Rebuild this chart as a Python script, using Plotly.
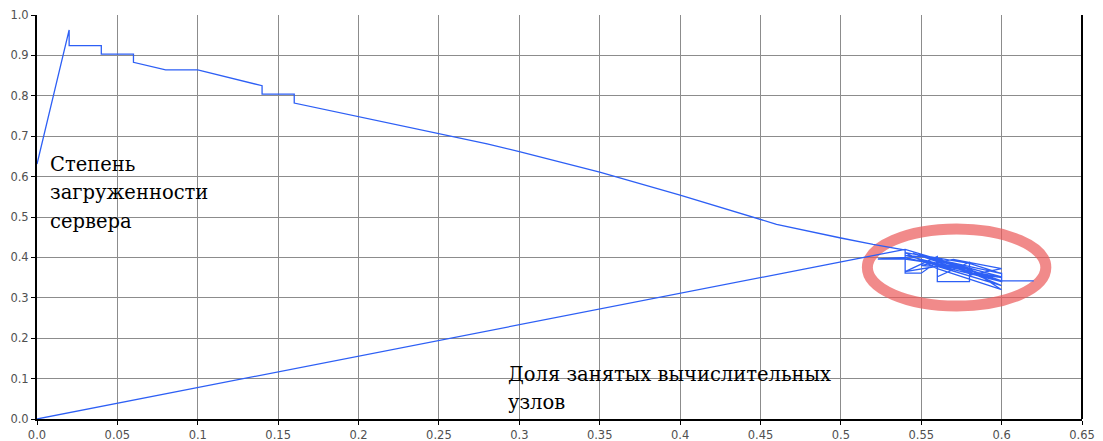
import plotly.graph_objects as go

# Upper branch: server load as busy-node share grows (steps every 0.02)
upper_x = [0.0, 0.02, 0.02, 0.04, 0.04, 0.06, 0.06, 0.08, 0.10, 0.14, 0.14, 0.16, 0.16,
           0.20, 0.25, 0.28, 0.30, 0.35, 0.40, 0.46, 0.50, 0.52]
upper_y = [0.631, 0.963, 0.924, 0.924, 0.903, 0.903, 0.883, 0.864, 0.864, 0.825, 0.804,
           0.804, 0.782, 0.748, 0.705, 0.681, 0.662, 0.611, 0.554, 0.482, 0.448, 0.432]

# Oscillation region around the equilibrium
cluster_x = [0.54, 0.54, 0.55, 0.56, 0.56, 0.58, 0.58, 0.60, 0.60, 0.54, 0.523, 0.54,
             0.58, 0.60, 0.56, 0.54, 0.58, 0.60, 0.56, 0.60, 0.55, 0.58, 0.60, 0.62,
             0.60, 0.56, 0.54, 0.56, 0.58, 0.55, 0.60, 0.58, 0.545, 0.57, 0.60, 0.56,
             0.54, 0.56, 0.56, 0.58, 0.58, 0.60, 0.57, 0.55, 0.58, 0.54]
cluster_y = [0.418, 0.361, 0.361, 0.389, 0.340, 0.340, 0.377, 0.361, 0.340, 0.400, 0.396,
             0.396, 0.372, 0.320, 0.372, 0.412, 0.385, 0.360, 0.395, 0.352, 0.405, 0.370,
             0.342, 0.342, 0.342, 0.385, 0.405, 0.398, 0.365, 0.392, 0.350, 0.362, 0.410,
             0.380, 0.330, 0.378, 0.365, 0.402, 0.352, 0.388, 0.356, 0.372, 0.395, 0.380,
             0.372, 0.420]

# Lower branch: back to the origin
lower_x = [0.0]
lower_y = [0.0]

x_ticks = [0.0, 0.05, 0.1, 0.15, 0.2, 0.25, 0.3, 0.35, 0.4, 0.45, 0.5, 0.55, 0.6, 0.65]
x_tick_text = ["0.0", "0.05", "0.1", "0.15", "0.2", "0.25", "0.3", "0.35", "0.4",
               "0.45", "0.5", "0.55", "0.6", "0.65"]
y_ticks = [0.0, 0.1, 0.2, 0.3, 0.4, 0.5, 0.6, 0.7, 0.8, 0.9, 1.0]

# Axis captions, one entry per text line
y_caption_lines = ["Степень", "загруженности", "сервера"]
x_caption_lines = ["Доля занятых вычислительных", "узлов"]

# Highlighted region (ellipse centre and half-axes)
ell_cx, ell_cy, ell_rx, ell_ry = 0.572, 0.375, 0.0555, 0.0953

xs = upper_x + cluster_x + lower_x
ys = upper_y + cluster_y + lower_y

fig = go.Figure()
fig.add_trace(go.Scatter(
    x=xs, y=ys, mode="lines",
    line=dict(color="rgb(45,95,245)", width=1.3),
    showlegend=False, hoverinfo="skip",
))

grid = "rgb(140,140,140)"
tick_font = dict(family="DejaVu Sans", size=11.5, color="#505050")

fig.update_xaxes(
    range=[0, 0.65], tickvals=x_ticks, ticktext=x_tick_text,
    showgrid=True, gridcolor=grid, gridwidth=1, zeroline=False,
    showline=True, linecolor="black", linewidth=2,
    ticks="outside", ticklen=4, tickcolor="black", tickwidth=1,
    tickfont=tick_font, automargin=False,
)
fig.update_yaxes(
    range=[0, 1.0], tickvals=y_ticks, tickformat=".1f",
    showgrid=True, gridcolor=grid, gridwidth=1, zeroline=False,
    showline=True, linecolor="black", linewidth=2,
    ticks="outside", ticklen=4, tickcolor="black", tickwidth=1,
    tickfont=tick_font, automargin=False,
)

fig.add_shape(type="line", xref="paper", yref="paper", x0=1, x1=1, y0=0, y1=1,
              line=dict(color="black", width=2), layer="above")
fig.add_shape(type="circle", xref="x", yref="y",
              x0=ell_cx - ell_rx, x1=ell_cx + ell_rx,
              y0=ell_cy - ell_ry, y1=ell_cy + ell_ry,
              line=dict(color="rgb(236,90,90)", width=11), opacity=0.7,
              layer="between")

caption_font = dict(family="DejaVu Serif", size=19.5, color="black")
line_step = 0.07  # caption line spacing in y units
for i, txt in enumerate(y_caption_lines):
    fig.add_annotation(x=0.0068, y=0.6295 - i * line_step, xref="x", yref="y",
                       xanchor="left", yanchor="middle", text=txt, showarrow=False,
                       font=caption_font)
for i, txt in enumerate(x_caption_lines):
    fig.add_annotation(x=0.2917, y=0.1097 - i * line_step, xref="x", yref="y",
                       xanchor="left", yanchor="middle", text=txt, showarrow=False,
                       font=caption_font)

fig.update_layout(
    width=1103, height=441,
    margin=dict(l=37, r=21, t=15, b=22, autoexpand=False),
    paper_bgcolor="white", plot_bgcolor="white",
)

fig.write_html("out.html")
